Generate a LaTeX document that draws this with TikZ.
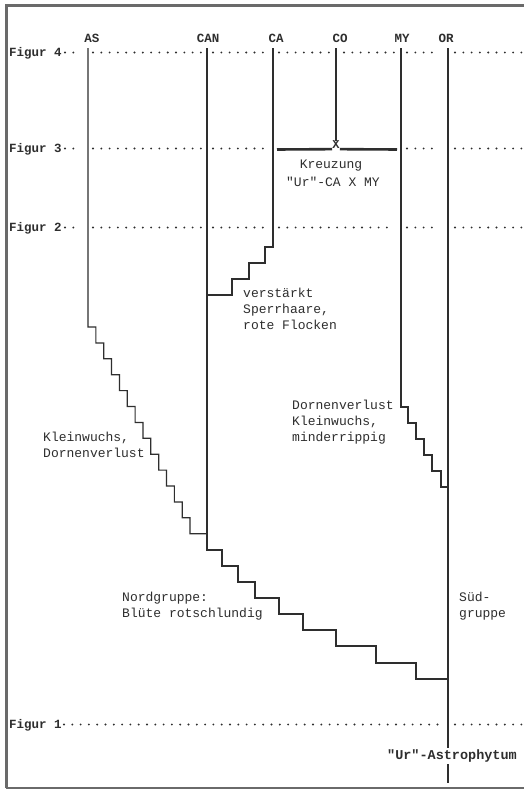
\documentclass[tikz,border=0pt]{standalone}
\usepackage{fontspec}
\newfontfamily\mono{Liberation Mono}
\definecolor{ink}{HTML}{2E2E2E}
\definecolor{frame}{HTML}{6A6A6A}
\begin{document}
\begin{tikzpicture}[x=1pt,y=-1pt,
  ln/.style={draw=ink,line width=1.2pt},
  dotrow/.style={draw=ink,line width=2.1pt,line cap=round,dash pattern=on 0pt off 8.3pt},
  txt/.style={inner sep=0pt,text=ink,font=\mono\fontsize{13}{16}\selectfont,align=left,anchor=base west},
  lbl/.style={inner sep=0pt,text=ink,font=\mono\bfseries\fontsize{12.5}{15}\selectfont,anchor=base},
  fig/.style={inner sep=0pt,text=ink,font=\mono\bfseries\fontsize{12.5}{15}\selectfont,anchor=base west}]
\useasboundingbox (0,0) rectangle (524,790);
\fill[white] (0,0) rectangle (524,790);
% frame
\draw[frame,line width=3pt] (6,788) -- (6,5) -- (524,5);
\draw[frame,line width=2pt] (6,788) -- (524,788);

% column tops
\coordinate (AStop) at (88,48);
\coordinate (CANtop) at (207,48);
\coordinate (CAtop) at (273,48);
\coordinate (COtop) at (336,48);
\coordinate (MYtop) at (401,48);
\coordinate (ORtop) at (448,48);
\coordinate (ORbot) at (448,783);

% column labels
\node[lbl] (AS) at (92,42) {AS};
\node[lbl] (CAN) at (208,42) {CAN};
\node[lbl] (CA) at (276,42) {CA};
\node[lbl] (CO) at (340,42) {CO};
\node[lbl] (MY) at (402,42) {MY};
\node[lbl] (OR) at (446,42) {OR};

% Figur labels
\node[fig] (f4) at (9,56.5) {Figur 4};
\node[fig] (f3) at (9,152.5) {Figur 3};
\node[fig] (f2) at (9,231.5) {Figur 2};
\node[fig] (f1) at (9,728.5) {Figur 1};

% dotted rows
\foreach \y in {52.5,148.5,227.5}{
  \draw[dotrow] (65,\y) -- (74,\y);
  \draw[dotrow] (93,\y) -- (203,\y);
  \draw[dotrow] (213,\y) -- (266,\y);
  \draw[dotrow] (407,\y) -- (440,\y);
  \draw[dotrow] (455,\y) -- (523,\y);
}
\draw[dotrow] (279,52.5) -- (331,52.5);
\draw[dotrow] (344,52.5) -- (395,52.5);
\draw[dotrow] (279,227.5) -- (395,227.5);
\draw[dotrow] (64,724.5) -- (440,724.5);
\draw[dotrow] (455,724.5) -- (523,724.5);

% Kreuzung
\node[inner sep=0pt,text=ink,font=\mono\bfseries\fontsize{12}{14}\selectfont] (X) at (336,145) {X};
\draw[ink,line width=2.6pt] (COtop) -- (X.north);
\draw[ink,line width=2.6pt] (277,149.5) -- (X.south west);
\draw[ink,line width=2.6pt] (X.south east) -- (397,149.5);
\node[txt,anchor=base] (kr) at (331,168.5) {Kreuzung};
\node[txt,anchor=base] (ur) at (333,186.5) {"Ur"-CA X MY};

% AS lineage
\draw[ln] (AStop) -- (88,327)
  \foreach \i in {1,...,13}{ -- ++(7.85,0) -- ++(0,15.9) } -- (CANtop |- 0,533.7);
% CAN lineage
\draw[ln] (CANtop) -- (207,550) -- (222,550) -- (222,566) -- (238,566) -- (238,582)
  -- (255,582) -- (255,598) -- (279,598) -- (279,614) -- (303,614) -- (303,630)
  -- (336,630) -- (336,646) -- (376,646) -- (376,663) -- (416,663) -- (416,679)
  -- (ORtop |- 0,679);
% CA lineage
\draw[ln] (CAtop) -- (273,247) -- (265,247) -- (265,263) -- (249,263) -- (249,279)
  -- (232,279) -- (232,295) -- (CANtop |- 0,295);
% MY lineage
\draw[ln] (MYtop) -- (401,407) -- (408,407) -- (408,423) -- (416,423) -- (416,439)
  -- (424,439) -- (424,455) -- (432,455) -- (432,471) -- (441,471) -- (441,487)
  -- (ORtop |- 0,487);
% OR lineage
\draw[ln] (ORtop) -- (ORbot);

% texts (base anchor = baseline of last line)
\node[txt] (t1) at (243,329.5) {verstärkt\\Sperrhaare,\\rote Flocken};
\node[txt] (t2) at (43,457.5) {Kleinwuchs,\\Dornenverlust};
\node[txt] (t3) at (292,441.5) {Dornenverlust\\Kleinwuchs,\\minderrippig};
\node[txt] (t4) at (122,617.5) {Nordgruppe:\\Blüte rotschlundig};
\node[txt] (t5) at (459,617.5) {Süd-\\gruppe};
\node[inner sep=1.5pt,fill=white,text=ink,font=\mono\bfseries\fontsize{13.5}{16}\selectfont,anchor=base] (ura) at (452,759.5) {"Ur"-Astrophytum};
\end{tikzpicture}
\end{document}
